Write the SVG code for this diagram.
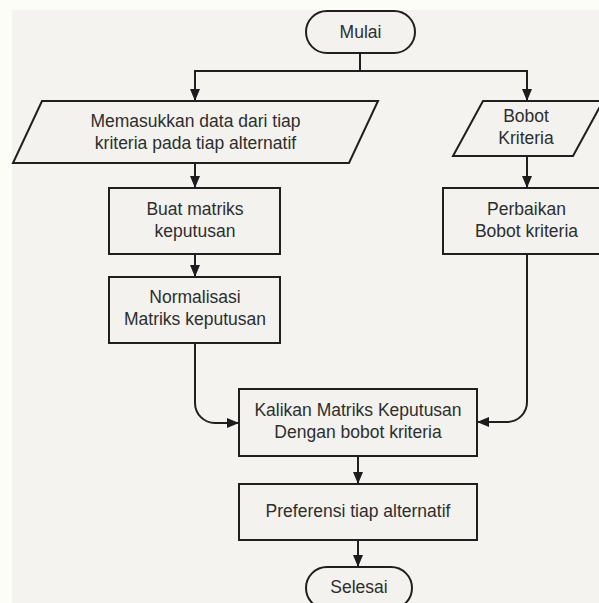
<svg xmlns="http://www.w3.org/2000/svg" width="599" height="603" viewBox="0 0 599 603">
  <defs>
    <marker id="arrow" markerUnits="userSpaceOnUse" markerWidth="12" markerHeight="12" viewBox="0 0 12 12" refX="12" refY="6" orient="auto">
      <path d="M0,1 L12,6 L0,11 Z" fill="#1c1c1c"/>
    </marker>
    <style>
      .shape { fill: #f3f2ee; stroke: #1f1f1f; stroke-width: 2; }
      .edge { fill: none; stroke: #1f1f1f; stroke-width: 2; marker-end: url(#arrow); }
      .label { font-family: "Liberation Sans", Arial, sans-serif; font-size: 17.5px; fill: #2e2e2e; text-anchor: middle; }
    </style>
  </defs>

  <!-- page background -->
  <rect x="0" y="0" width="599" height="603" fill="#fdfdf8"/>
  <rect x="12" y="10" width="587" height="593" fill="#f4f3ef"/>

  <!-- connectors -->
  <g id="connectors">
    <path class="edge" d="M360,71 H195 V101"/>
    <path class="edge" d="M360,53 V71 H527 V101"/>
    <path class="edge" d="M195,163 V188"/>
    <path class="edge" d="M195,254 V277"/>
    <path class="edge" d="M527,156 V188"/>
    <path class="edge" d="M195,343 V403 A20,20 0 0 0 215,423 H239"/>
    <path class="edge" d="M527,254 V402 A20,20 0 0 1 507,422 H477"/>
    <path class="edge" d="M358,456 V484"/>
    <path class="edge" d="M358,540 V567"/>
  </g>

  <g id="mulai">
    <rect class="shape" x="306" y="11" width="109" height="42" rx="21" ry="21"/>
    <text class="label" x="360.5" y="38">Mulai</text>
  </g>

  <g id="input-data">
    <polygon class="shape" points="42,101 378,101 349,163 13,163"/>
    <text class="label" x="195.5" y="127">Memasukkan data dari tiap</text>
    <text class="label" x="195.5" y="149">kriteria pada tiap alternatif</text>
  </g>

  <g id="bobot-kriteria">
    <polygon class="shape" points="483,101 603,101 573,156 453,156"/>
    <text class="label" x="526" y="122">Bobot</text>
    <text class="label" x="526" y="144">Kriteria</text>
  </g>

  <g id="buat-matriks">
    <rect class="shape" x="109" y="188" width="171" height="66"/>
    <text class="label" x="195" y="215">Buat matriks</text>
    <text class="label" x="195" y="237">keputusan</text>
  </g>

  <g id="perbaikan-bobot">
    <rect class="shape" x="443" y="188" width="168" height="66"/>
    <text class="label" x="526.5" y="215">Perbaikan</text>
    <text class="label" x="526.5" y="237">Bobot kriteria</text>
  </g>

  <g id="normalisasi">
    <rect class="shape" x="109" y="277" width="171" height="66"/>
    <text class="label" x="195" y="303">Normalisasi</text>
    <text class="label" x="195" y="325">Matriks keputusan</text>
  </g>

  <g id="kalikan">
    <rect class="shape" x="239" y="389" width="238" height="67"/>
    <text class="label" x="358" y="416">Kalikan Matriks Keputusan</text>
    <text class="label" x="358" y="438">Dengan bobot kriteria</text>
  </g>

  <g id="preferensi">
    <rect class="shape" x="239" y="484" width="238" height="56"/>
    <text class="label" x="358" y="517">Preferensi tiap alternatif</text>
  </g>

  <g id="selesai">
    <rect class="shape" x="306" y="567" width="106" height="42" rx="21" ry="21"/>
    <text class="label" x="359" y="593">Selesai</text>
  </g>
</svg>
